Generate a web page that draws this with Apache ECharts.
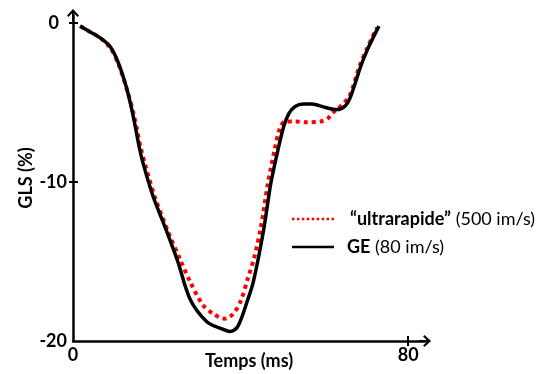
<!DOCTYPE html>
<html>
<head>
<meta charset="utf-8">
<script src="https://cdn.jsdelivr.net/npm/echarts@6/dist/echarts.min.js"></script>
<style>
html,body{margin:0;padding:0;background:#fff;}
#c{width:555px;height:374px;}
</style>
</head>
<body>
<div id="c"></div>
<script>
// Data
const geTime = [1.7, 4, 6.5, 8.9, 10.8, 12.9, 14.4, 15.8, 16.7, 19.1, 22.2, 25, 28, 32, 35.2, 37.5, 39.3, 41.7, 43.1, 45.5, 47.2, 48.9, 50.3, 51.5, 53, 55, 57, 60, 63, 65, 66.3, 68.7, 70.4, 73];
const geGLS = [-0.2, -0.55, -0.94, -1.5, -2.5, -4.2, -5.9, -7.8, -8.8, -10.9, -13.0, -15.0, -17.4, -18.8, -19.2, -19.4, -19.1, -17.4, -16.2, -13.0, -10.1, -8.0, -6.5, -5.7, -5.25, -5.1, -5.1, -5.3, -5.45, -5.2, -4.6, -2.7, -1.6, -0.2];
const urTime = [1.7, 4, 6.5, 9, 11, 13.1, 14.7, 16.2, 17.2, 19.6, 22.8, 25.6, 28, 30.9, 33.5, 36.2, 38.2, 40, 41.8, 43.2, 44.8, 46.5, 48.1, 49.4, 50.6, 53, 56, 59, 60.8, 62.2, 64, 66, 68.4, 70.2, 72.5];
const urGLS = [-0.2, -0.55, -0.94, -1.6, -2.7, -4.4, -6.0, -7.9, -8.9, -11.0, -13.2, -14.9, -16.3, -17.7, -18.3, -18.6, -18.3, -17.5, -16.0, -14.8, -12.9, -10.1, -8.0, -6.6, -6.2, -6.2, -6.25, -6.2, -6.0, -5.6, -5.2, -4.6, -2.7, -1.6, -0.3];
const xTicks = [0, 80];
const yTicks = [-20, -10, 0];
const xTitle = 'Temps (ms)';
const yTitle = 'GLS (%)';
const nameUR = 'ultrarapide';
const nameGE = 'GE';

const pair = (xs, ys) => xs.map((x, i) => [x, ys[i]]);
const FONT = 'Lato';
const arrow = 'path://M6,0 L12,6.5 L10.6,7.9 L6,3.3 L1.4,7.9 L0,6.5 Z M5,1 L7,1 L7,12 L5,12 Z';
let dots = '';
for (let i = 0; i < 9; i++) { const x0 = i * 5; dots += 'M' + x0 + ',0 L' + (x0 + 2.5) + ',0 L' + (x0 + 2.5) + ',2.5 L' + x0 + ',2.5 Z '; }
const dotIcon = 'path://' + dots;
const solidIcon = 'path://M0,0 L42,0 L42,2.5 L0,2.5 Z';
const lbl = {fontFamily: FONT, fontWeight: 'bold', fontSize: 18, color: '#000'};

const chart = echarts.init(document.getElementById('c'), null, {renderer: 'canvas'});
chart.setOption({
  animation: false,
  backgroundColor: '#fff',
  grid: {left: 73, right: 130, top: 15, bottom: 33, containLabel: false, outerBoundsMode: 'none'},
  xAxis: [{
    type: 'value', min: 0, max: 84, position: 'bottom',
    name: xTitle, nameLocation: 'middle', nameGap: 11, nameMoveOverlap: false,
    nameTextStyle: lbl,
    axisLine: {show: true, onZero: false, lineStyle: {color: '#000', width: 2.5}, symbol: ['none', arrow], symbolSize: [12, 12]},
    axisTick: {show: true, customValues: [80], length: 5, lineStyle: {color: '#000', width: 2}},
    axisLabel: Object.assign({customValues: xTicks, margin: 5}, lbl),
    splitLine: {show: false}
  }, {
    type: 'value', min: 0, max: 84, position: 'bottom',
    axisLine: {show: false, onZero: false},
    axisTick: {show: true, inside: true, customValues: [80], length: 5, lineStyle: {color: '#000', width: 2}},
    axisLabel: {show: false},
    splitLine: {show: false}
  }],
  yAxis: [{
    type: 'value', min: -20, max: 0.5, position: 'left',
    name: yTitle, nameLocation: 'middle', nameGap: 38, nameRotate: 90, nameMoveOverlap: false,
    nameTextStyle: lbl,
    axisLine: {show: true, onZero: false, lineStyle: {color: '#000', width: 2.5}, symbol: ['none', arrow], symbolSize: [12, 12]},
    axisTick: {show: true, customValues: [-10, 0], length: 4, lineStyle: {color: '#000', width: 2}},
    axisLabel: Object.assign({
      customValues: yTicks, margin: 6,
      formatter: function (v) { return v === 0 ? '{z|0}' : String(v); },
      rich: {z: Object.assign({padding: [0, 8, 0, 0]}, lbl)}
    }, lbl),
    splitLine: {show: false}
  }, {
    type: 'value', min: -20, max: 0.5, position: 'left',
    axisLine: {show: false, onZero: false},
    axisTick: {show: true, inside: true, customValues: [-10, 0], length: 5, lineStyle: {color: '#000', width: 2}},
    axisLabel: {show: false},
    splitLine: {show: false}
  }],
  legend: {
    orient: 'vertical', left: 287, top: 203, itemGap: 6,
    itemWidth: 42, itemHeight: 3,
    data: [
      {name: nameUR, icon: dotIcon, itemStyle: {color: '#ff0000'}},
      {name: nameGE, icon: solidIcon, itemStyle: {color: '#000'}}
    ],
    formatter: function (n) {
      if (n === nameUR) return '{b|\u201Cultrarapide\u201D}{r| (500 im/s)}';
      return '{g|GE}{r| (80 im/s)}';
    },
    textStyle: {
      fontFamily: FONT, fontSize: 18, color: '#000', lineHeight: 22,
      rich: {
        b: {fontFamily: FONT, fontWeight: 'bold', fontSize: 18, color: '#000', lineHeight: 22, padding: [0, 0, 0, 11]},
        g: {fontFamily: FONT, fontWeight: 'bold', fontSize: 18, color: '#000', lineHeight: 22, padding: [0, 0, 0, 8]},
        r: {fontFamily: FONT, fontWeight: 'normal', fontSize: 18, color: '#000', lineHeight: 22}
      }
    }
  },
  series: [{
    name: nameUR, type: 'line', xAxisIndex: 0, yAxisIndex: 0,
    data: pair(urTime, urGLS), smooth: 0.3, symbol: 'none', z: 2,
    lineStyle: {color: '#ff0000', width: 4, type: [4, 4], cap: 'butt'},
    itemStyle: {color: '#ff0000'}
  }, {
    name: nameGE, type: 'line', xAxisIndex: 0, yAxisIndex: 0,
    data: pair(geTime, geGLS), smooth: 0.3, symbol: 'none', z: 3,
    lineStyle: {color: '#000', width: 3.5, type: 'solid'},
    itemStyle: {color: '#000'}
  }]
});
</script>
</body>
</html>
